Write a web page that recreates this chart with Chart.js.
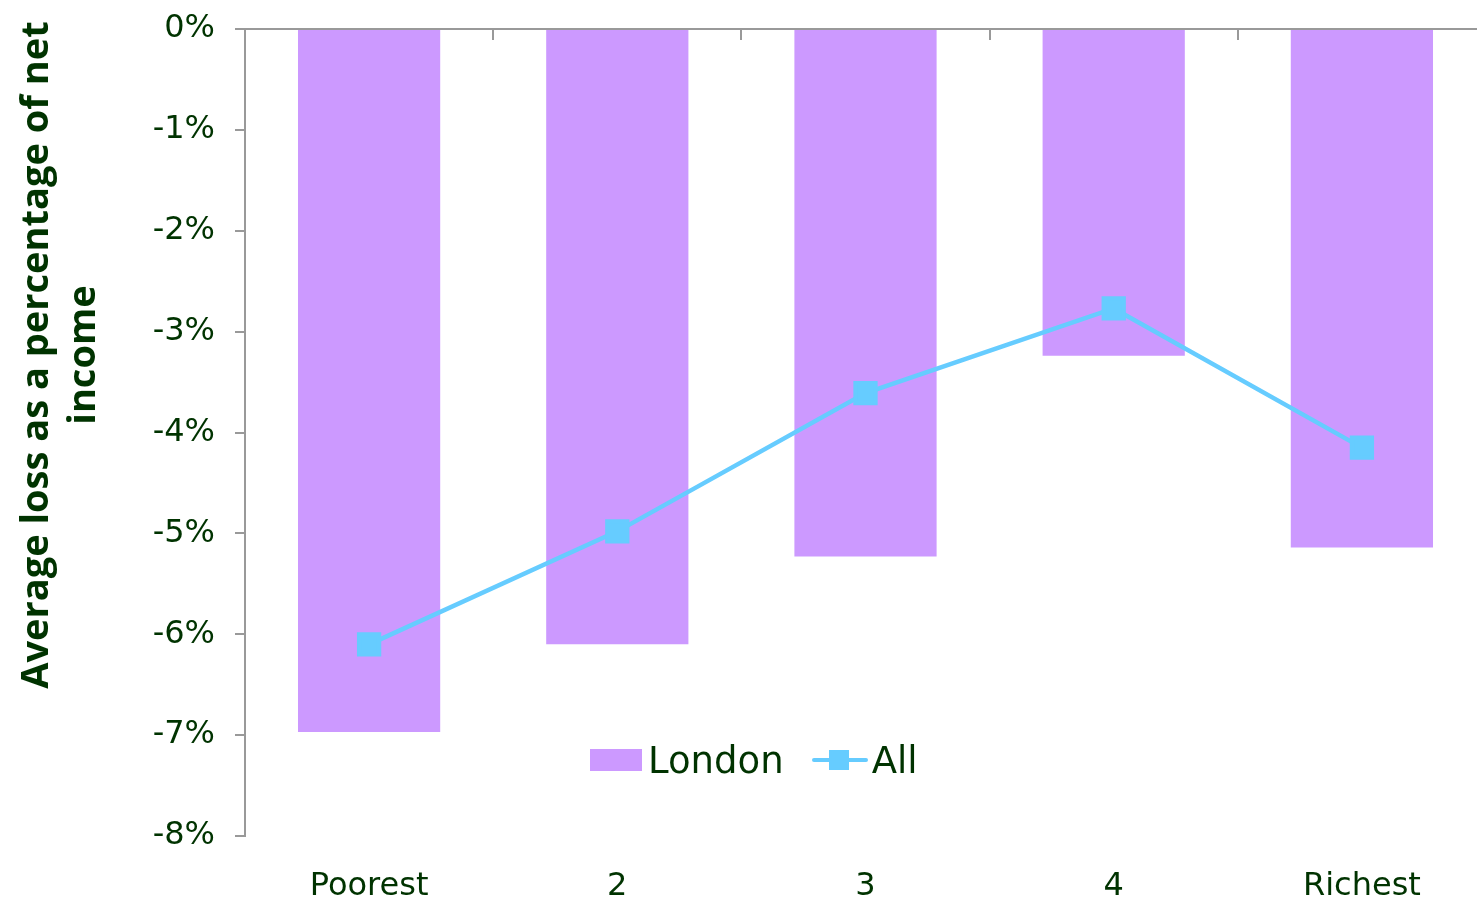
<!DOCTYPE html>
<html>
<head>
<meta charset="utf-8">
<script src="https://cdn.jsdelivr.net/npm/chart.js@4.4.1/dist/chart.umd.min.js"></script>
<style>
  html, body { margin:0; padding:0; overflow:hidden; background:#fff; }
  #wrap { position:relative; width:1486px; height:906px; }
  #ytitle {
    position:absolute; left:57px; top:355px; width:900px;
    transform: translate(-50%, -50%) rotate(-90deg);
    text-align:center; font: bold 38px "Open Sans", sans-serif; line-height:47px;
    color:#003300;
  }
  #legend { position:absolute; left:590px; top:740px; height:40px; line-height:40px;
    display:flex; align-items:center;
    font: 37px "DejaVu Sans", sans-serif; color:#003300; }
  .sw-bar { width:52px; height:22px; background:#CC99FF; margin-right:6px; }
  .sw-line { position:relative; width:56px; height:22px; margin:0 4px 0 28px; }
  .sw-line::before { content:''; position:absolute; left:0; right:0; top:9px; height:4px; background:#66CCFF; border-radius:2px; }
  .sw-line::after { content:''; position:absolute; left:17px; top:1px; width:20px; height:20px; background:#66CCFF; }
</style>
</head>
<body>
<div id="wrap">
  <canvas id="c" width="1486" height="906"></canvas>
  <div id="ytitle">Average loss as a percentage of net<br>income</div>
  <div id="legend"><span class="sw-bar"></span>London<span class="sw-line"></span>All</div>
</div>
<script>
/* ---------- data ---------- */
const categories = ['Poorest', '2', '3', '4', 'Richest'];
const london = [-6.97, -6.10, -5.23, -3.24, -5.14];
const all    = [-6.10, -4.98, -3.61, -2.77, -4.15];
const yTicks = [0, -1, -2, -3, -4, -5, -6, -7, -8];

const INK = '#003300', AXIS = '#999999';
const FONT = '"DejaVu Sans", sans-serif';

/* top zero line with inward category ticks */
const topAxis = {
  id: 'topAxis',
  afterDatasetsDraw(chart){
    const {ctx, chartArea:a, scales:{x, y}} = chart;
    const y0 = y.getPixelForValue(0);
    ctx.save();
    ctx.strokeStyle = AXIS; ctx.lineWidth = 2;
    ctx.beginPath(); ctx.moveTo(a.left, y0); ctx.lineTo(a.right, y0); ctx.stroke();
    for(let i=0;i<categories.length-1;i++){
      const px = Math.round((x.getPixelForTick(i)+x.getPixelForTick(i+1))/2);
      ctx.beginPath(); ctx.moveTo(px, y0); ctx.lineTo(px, y0+11); ctx.stroke();
    }
    ctx.restore();
  }
};

new Chart(document.getElementById('c'), {
  data: {
    labels: categories,
    datasets: [
      { type:'line', label:'All', data: all, order:0,
        borderColor:'#66CCFF', backgroundColor:'#66CCFF', borderWidth:4.5,
        pointStyle:'rect', pointRadius:14, pointHoverRadius:14, tension:0 },
      { type:'bar', label:'London', data: london, order:1,
        backgroundColor:'#CC99FF', categoryPercentage:1, barPercentage:0.573 }
    ]
  },
  options: {
    responsive:false, animation:false,
    layout: { autoPadding:false, padding: { top:29, right:0, left:0, bottom:0 } },
    plugins: { legend:{display:false}, tooltip:{enabled:false} },
    scales: {
      x: {
        grid:{ display:false }, border:{ display:false },
        ticks:{ color:INK, padding:23, font:{ family:FONT, size:32 } },
        afterFit(s){ s.height = 70; s.paddingLeft = 0; s.paddingRight = 0; }
      },
      y: {
        min:-8, max:0,
        afterBuildTicks(s){ s.ticks = yTicks.map(v => ({value:v})); },
        grid:{ drawOnChartArea:false, color:AXIS, lineWidth:2, tickLength:10 },
        border:{ color:AXIS, width:2 },
        ticks:{ color:INK, padding:20, callback: v => v + '%',
                font:{ family:FONT, size:32 } },
        afterFit(s){ s.width = 245; s.paddingTop = 0; s.paddingBottom = 0; }
      }
    }
  },
  plugins:[topAxis]
});
</script>
</body>
</html>
